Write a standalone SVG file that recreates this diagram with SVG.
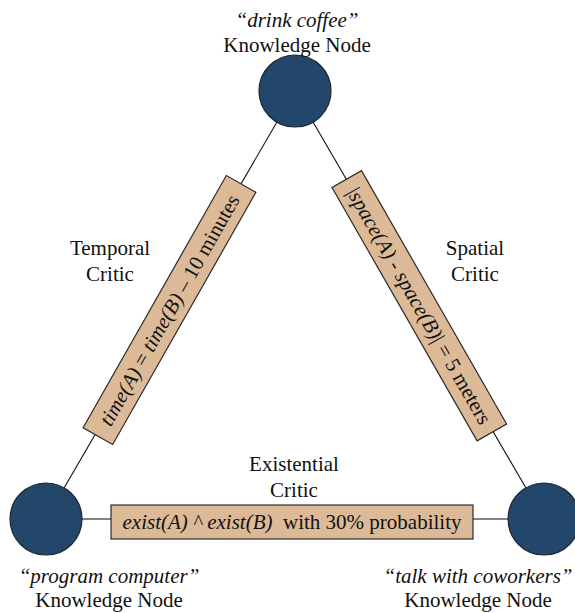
<svg xmlns="http://www.w3.org/2000/svg" width="575" height="613" viewBox="0 0 575 613">
  <style>
    .node { fill: #23466b; stroke: #1c2530; stroke-width: 1.2; }
    .box { fill: #dcba97; stroke: #2a2a2a; stroke-width: 1.2; }
    .edge { stroke: #111; stroke-width: 1.1; fill: none; }
    .edge2 { stroke: #5a5a5a; stroke-width: 1.6; fill: none; }
    .lbl { font-size: 21px; fill: #111; text-anchor: middle; }
    .it { font-style: italic; }
  </style>
  <g id="connectors">
    <line class="edge" x1="295" y1="91" x2="46" y2="519"/>
    <line class="edge" x1="295" y1="91" x2="544" y2="519"/>
    <line class="edge2" x1="46" y1="519" x2="544" y2="519"/>
  </g>
  <g font-family="Liberation Serif, Times New Roman, DejaVu Serif, serif">
  <g id="node-drink-coffee">
    <circle class="node" cx="295" cy="91" r="36"/>
    <text class="lbl it" x="297" y="27">“drink coffee”</text>
    <text class="lbl" x="297" y="52">Knowledge Node</text>
  </g>
  <g id="node-program-computer">
    <circle class="node" cx="46" cy="519" r="36"/>
    <text class="lbl it" x="109" y="583">“program computer”</text>
    <text class="lbl" x="109" y="607">Knowledge Node</text>
  </g>
  <g id="node-talk-with-coworkers">
    <circle class="node" cx="544" cy="519" r="36"/>
    <text class="lbl it" x="478" y="583">“talk with coworkers”</text>
    <text class="lbl" x="478" y="607">Knowledge Node</text>
  </g>
  <g id="temporal-critic">
    <g transform="translate(169.5,310) rotate(-60.4)">
      <rect class="box" x="-145" y="-17" width="290" height="34"/>
      <text class="lbl" x="0" y="7"><tspan class="it">time(A)</tspan> = <tspan class="it">time(B)</tspan> – 10 minutes</text>
    </g>
    <text class="lbl" x="110" y="255">Temporal</text>
    <text class="lbl" x="110" y="281">Critic</text>
  </g>
  <g id="spatial-critic">
    <g transform="translate(419.3,305.8) rotate(60.2)">
      <rect class="box" x="-146" y="-17" width="292" height="34"/>
      <text class="lbl" x="0" y="7">|<tspan class="it">space(A)</tspan> - <tspan class="it">space(B)</tspan>| = 5 meters</text>
    </g>
    <text class="lbl" x="475" y="255">Spatial</text>
    <text class="lbl" x="475" y="281">Critic</text>
  </g>
  <g id="existential-critic">
    <rect class="box" x="111" y="505" width="362" height="34"/>
    <text class="lbl" x="292" y="529"><tspan class="it">exist(A) ^ exist(B)</tspan>&#160; with 30% probability</text>
    <text class="lbl" x="294" y="471">Existential</text>
    <text class="lbl" x="294" y="497">Critic</text>
  </g>
  </g>
</svg>
